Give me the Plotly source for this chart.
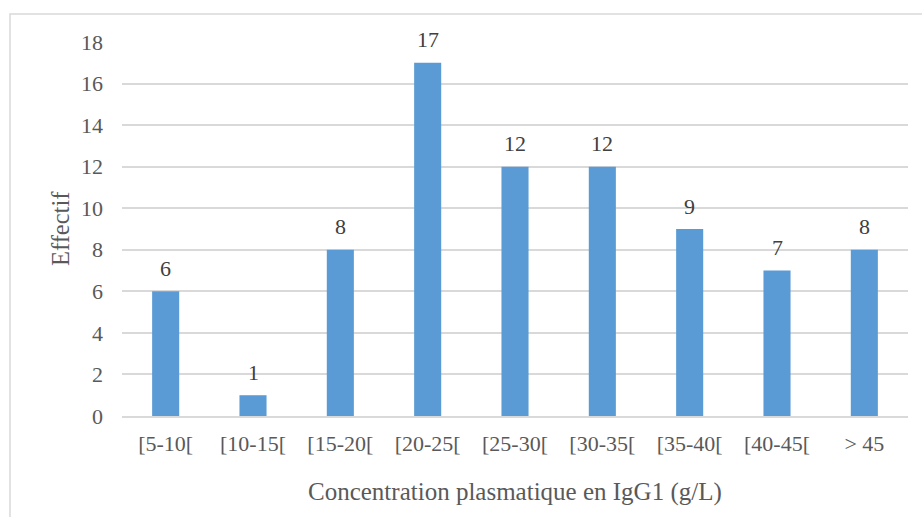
import plotly.graph_objects as go

categories = ["[5-10[", "[10-15[", "[15-20[", "[20-25[", "[25-30[", "[30-35[", "[35-40[", "[40-45[", "> 45"]
values = [6, 1, 8, 17, 12, 12, 9, 7, 8]
y_ticks = [0, 2, 4, 6, 8, 10, 12, 14, 16, 18]

FONT = "Liberation Serif, Times New Roman, serif"

fig = go.Figure(go.Bar(
    x=categories, y=values,
    marker=dict(color="#5B9BD5", line=dict(width=0)),
))

L, R, T, B = 122, 14, 42, 101
W, H = 922, 517
pw, ph = W - L - R, H - T - B

annotations = [
    dict(x=c, y=v, xref="x", yref="y", text=str(v), showarrow=False,
         yanchor="middle", yshift=23,
         font=dict(family=FONT, size=22, color="#404040"))
    for c, v in zip(categories, values)
]
annotations += [
    dict(text="Effectif", xref="paper", yref="paper",
         x=(60 - L) / pw, y=(H - B - 229) / ph, textangle=-90, showarrow=False,
         font=dict(family=FONT, size=24.5, color="#595959"), xanchor="center", yanchor="middle"),
    dict(text="Concentration plasmatique en IgG1 (g/L)", xref="paper", yref="paper",
         x=0.5, y=(H - B - 492) / ph, showarrow=False,
         font=dict(family=FONT, size=25, color="#595959"), xanchor="center", yanchor="middle"),
]

fig.update_layout(
    width=W, height=H,
    margin=dict(l=L, r=R, t=T, b=B),
    paper_bgcolor="white", plot_bgcolor="white",
    bargap=0.69,
    showlegend=False,
    font=dict(family=FONT, size=22, color="#595959"),
    xaxis=dict(showgrid=False, showline=True, linecolor="#d9d9d9", linewidth=1.5,
               ticks="", tickfont=dict(family=FONT, size=22, color="#595959"),
               ticklabelstandoff=7),
    yaxis=dict(range=[0, 18], tickvals=y_ticks, showgrid=True, gridcolor="#d9d9d9",
               gridwidth=1.5, zeroline=False, showline=False, ticks="",
               tickfont=dict(family=FONT, size=22, color="#595959"),
               ticklabelstandoff=18),
    annotations=annotations,
    shapes=[dict(type="rect", xref="paper", yref="paper",
                 x0=(10 - L) / pw, x1=(940 - L) / pw,
                 y0=(H - B - 540) / ph, y1=(H - B - 14) / ph,
                 line=dict(color="#d9d9d9", width=1.5), fillcolor="rgba(0,0,0,0)", layer="below")],
)

fig.write_html("out.html")
